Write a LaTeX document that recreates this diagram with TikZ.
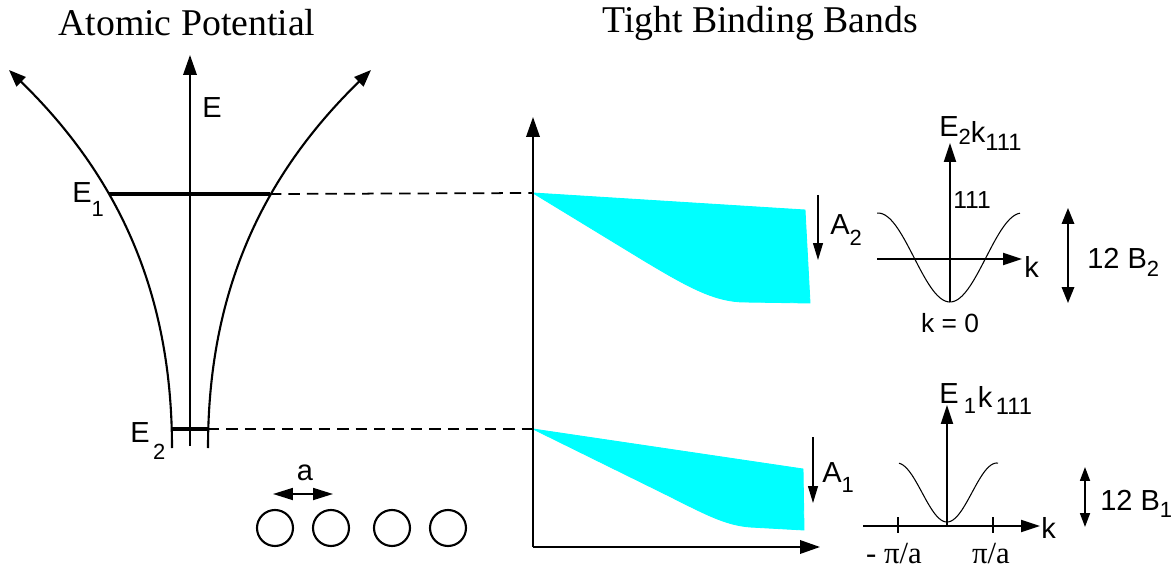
\documentclass[tikz,border=0pt]{standalone}
\usepackage{fontspec}
\setmainfont{Liberation Serif}
\setsansfont{Liberation Sans}
\usepackage{tikz}
\usetikzlibrary{arrows.meta}
\usepackage{xcolor}
\definecolor{bandcyan}{RGB}{0,255,255}
\newcommand{\lblfont}{\sffamily\fontsize{16.5}{19}\selectfont}
\newcommand{\subfont}{\fontsize{12.5}{14}\selectfont}
\newcommand{\lsub}[3][5pt]{#2\raisebox{-#1}{\subfont #3}}

\begin{document}
\begin{tikzpicture}[
    x=0.02cm, y=-0.02cm,
    axis/.style={line width=1.1pt, -{Triangle[length=4mm,width=2.7mm]}},
    pot/.style={line width=1.2pt, -{Triangle[length=3.4mm,width=2.6mm]}},
    elevel/.style={line width=2.3pt},
    guide/.style={line width=1pt, dash pattern=on 6.5pt off 4pt},
    band/.style={fill=bandcyan, draw=bandcyan, line width=0.5pt},
    shiftarrow/.style={line width=0.6pt, -{Triangle[length=3.4mm,width=2mm]}},
    spanarrow/.style={line width=1pt, {Triangle[length=3.2mm,width=2.5mm]}-{Triangle[length=3.2mm,width=2.5mm]}},
    disp/.style={line width=0.6pt},
    atom/.style={draw, circle, line width=1.2pt, minimum size=0.72cm, inner sep=0pt},
    lbl/.style={font=\lblfont, inner sep=0pt, anchor=base west},
    smalllbl/.style={font=\sffamily\fontsize{15}{17}\selectfont, inner sep=0pt, anchor=base west},
    kpi/.style={font=\fontsize{17.5}{20}\selectfont, inner sep=0pt, anchor=base},
    title/.style={font=\fontsize{21.5}{24}\selectfont, inner sep=0pt, anchor=base west}
]
    \useasboundingbox (0,0) rectangle (1174,571);

    % Titles
    \node[title] (ttlatom) at (58,36) {Atomic Potential};
    \node[title] (ttlband) at (602,33) {Tight Binding Bands};

    % Atomic potential
    \draw[axis] (190,446) -- (190,55);
    \draw[pot] (172,448) .. controls (172,298) and (122,180) .. (9,70);
    \draw[pot] (208,448) .. controls (208,298) and (258,180) .. (371,70);
    \node[lbl] (elab) at (202,118) {E};

    \coordinate (E1l) at (109,194);
    \coordinate (E1r) at (270,194);
    \coordinate (E2l) at (172,429);
    \coordinate (E2r) at (208,429);
    \draw[elevel] (E1l) -- (E1r);
    \draw[elevel, line width=1.9pt] (E2l) -- (E2r);
    \node[lbl] (e1lab) at (72,202) {\lsub[8.5pt]{E}{1}};
    \node[lbl] (e2lab) at (130,442) {\lsub[10pt]{E}{\kern2pt 2}};

    % Atoms and spacing
    \node[atom] (at1) at (275,528) {};
    \node[atom] (at2) at (331,528) {};
    \node[atom] (at3) at (392,528) {};
    \node[atom] (at4) at (448,528) {};
    \coordinate (al) at (273,494);
    \coordinate (ar) at (333,494);
    \draw[spanarrow, {Triangle[length=4mm,width=2.4mm]}-{Triangle[length=4mm,width=2.4mm]}] (al) -- (ar);
    \node[lbl, anchor=base] (alab) at (305,480) {a};

    % Band axes
    \coordinate (orig) at (533,547);
    \coordinate (up0) at (533,193);
    \coordinate (lo0) at (533,429);
    \fill[band] (up0) -- (805,210) -- (810,303) -- (745,302)
        .. controls (715,302) and (688,287) .. (643,260) -- cycle;
    \fill[band] (lo0) -- (803,469) -- (804,530) -- (750,527)
        .. controls (725,525) and (705,514) .. (667,495) -- cycle;
    \draw[axis] (orig) -- (533,117);
    \draw[axis] (orig) -- (820,547);

    % Levels to bands
    \draw[guide] (E1r) -- (up0);
    \draw[guide] (E2r) -- (lo0);

    % Band shifts
    \draw[shiftarrow] (818,195) -- (818,260);
    \node[lbl] (a2lab) at (830,235) {\lsub[5.7pt]{A}{2}};
    \draw[shiftarrow] (813,437) -- (813,503);
    \node[lbl] (a1lab) at (822,482) {\lsub[5.7pt]{A}{1}};

    % Upper dispersion
    \draw[axis, -{Triangle[length=3.8mm,width=2.4mm]}] (877,259) -- (1022,259);
    \draw[axis, -{Triangle[length=3.8mm,width=2.4mm]}] (950,302) -- (950,143);
    \draw[disp] plot[domain=-73:70, samples=70] ({950+\x}, {257.5+44.5*cos(\x*180/72)});
    \node[lbl] (e2k) at (939,137) {E\raisebox{-4.5pt}{\subfont 2}\raisebox{-3.4pt}{k}\raisebox{-7.4pt}{\fontsize{13.5}{15}\selectfont 111}};
    \node[smalllbl, font=\sffamily\fontsize{14}{16}\selectfont] (dir2) at (953,209) {111};
    \node[lbl] (k2) at (1024,277) {k};
    \node[smalllbl, anchor=base] (k0) at (950,332) {k = 0};
    \draw[spanarrow] (1068,208) -- (1068,303);
    \node[lbl] (b2lab) at (1087,268) {\lsub[5pt]{12 B}{2}};

    % Lower dispersion
    \draw[axis, -{Triangle[length=3.8mm,width=2.4mm]}] (863,526) -- (1040,526);
    \draw[axis, -{Triangle[length=3.8mm,width=2.4mm]}] (947,526) -- (947,405);
    \draw[disp] plot[domain=-48:51, samples=70] ({947+\x}, {492.5+29.5*cos(\x*180/50)});
    \draw[disp] (898,517) -- (898,533);
    \draw[disp] (993,517) -- (993,533);
    \node[lbl] (e1k) at (939,403) {E\kern3pt\raisebox{-5.7pt}{\subfont 1}\kern1pt\raisebox{-2.3pt}{k}\kern2pt\raisebox{-6.8pt}{\fontsize{13.5}{15}\selectfont 111}};
    \node[lbl] (k1) at (1041,538) {k};
    \node[kpi] (mpi) at (894,563) {- π/a};
    \node[kpi] (ppi) at (991,563) {π/a};
    \draw[spanarrow, {Triangle[length=2.8mm,width=2mm]}-{Triangle[length=2.8mm,width=2mm]}] (1085,467) -- (1085,527);
    \node[lbl] (b1lab) at (1100,510) {\lsub[4pt]{12 B}{1}};
\end{tikzpicture}
\end{document}
